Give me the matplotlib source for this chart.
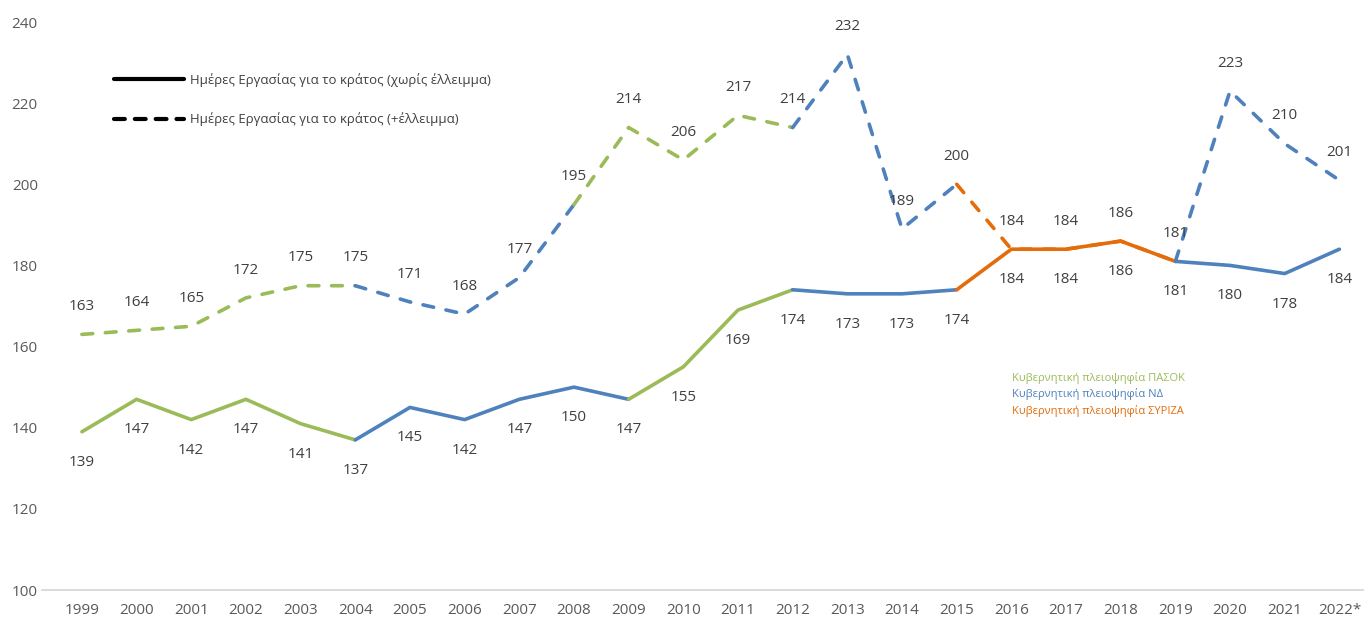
import numpy as np
import matplotlib
matplotlib.use("Agg")
import matplotlib.pyplot as plt
from matplotlib.lines import Line2D

plt.rcParams['font.family'] = ['Open Sans', 'DejaVu Sans']

# data
years = ['1999', '2000', '2001', '2002', '2003', '2004', '2005', '2006', '2007', '2008',
         '2009', '2010', '2011', '2012', '2013', '2014', '2015', '2016', '2017', '2018',
         '2019', '2020', '2021', '2022*']
no_deficit = [139, 147, 142, 147, 141, 137, 145, 142, 147, 150, 147, 155, 169, 174,
              173, 173, 174, 184, 184, 186, 181, 180, 178, 184]
with_deficit = [163, 164, 165, 172, 175, 175, 171, 168, 177, 195, 214, 206, 217, 214,
                232, 189, 200, 184, 184, 186, 181, 223, 210, 201]

# governing party for each segment (year i -> year i+1)
solid_party = ['P'] * 5 + ['N'] * 5 + ['P'] * 3 + ['N'] * 3 + ['S'] * 4 + ['N'] * 3
dashed_party = ['P'] * 5 + ['N'] * 4 + ['P'] * 4 + ['N'] * 3 + ['S'] * 4 + ['N'] * 3

party_colors = {'P': '#9BBB59', 'N': '#4F81BD', 'S': '#E46C0A'}
party_names = ['Κυβερνητική πλειοψηφία ΠΑΣΟΚ', 'Κυβερνητική πλειοψηφία ΝΔ',
               'Κυβερνητική πλειοψηφία ΣΥΡΙΖΑ']

x = np.arange(len(years))


def draw_runs(ax, values, parties, ls):
    # join consecutive segments of the same party into one line
    start = 0
    for i in range(1, len(parties) + 1):
        if i == len(parties) or parties[i] != parties[start]:
            xs = x[start:i + 1]
            ys = values[start:i + 1]
            ax.plot(xs, ys, color=party_colors[parties[start]], lw=2.6,
                    linestyle=ls, dash_capstyle='round', solid_capstyle='round',
                    solid_joinstyle='round', zorder=3)
            start = i


fig = plt.figure(figsize=(13.64, 6.21), dpi=100)
ax = fig.add_axes([42 / 1364, 31 / 621, (1364 - 42) / 1364, (590 - 22) / 621])

draw_runs(ax, with_deficit, dashed_party, (0, (3.0, 3.5)))
draw_runs(ax, no_deficit, solid_party, '-')

lab_color = '#404040'
for xi, v in zip(x, with_deficit):
    ax.annotate(str(v), (xi, v), xytext=(0, 20), textcoords='offset points',
                ha='center', va='center', fontsize=11, color=lab_color)
for xi, v in zip(x, no_deficit):
    ax.annotate(str(v), (xi, v), xytext=(0, -22), textcoords='offset points',
                ha='center', va='center', fontsize=11, color=lab_color)

ax.set_xlim(-0.73, 23.45)
ax.set_ylim(100, 240)
ax.set_yticks(range(100, 241, 20))
ax.set_xticks(x)
ax.set_xticklabels(years)
ax.tick_params(axis='both', length=0, labelsize=11, labelcolor='#595959')
ax.tick_params(axis='x', pad=9)
ax.tick_params(axis='y', pad=3)
for side in ['top', 'right', 'left']:
    ax.spines[side].set_visible(False)
ax.spines['bottom'].set_color('#D9D9D9')
ax.spines['bottom'].set_linewidth(1.3)

# line style legend
handles = [Line2D([], [], color='black', lw=3, solid_capstyle='round'),
           Line2D([], [], color='black', lw=3, linestyle=(0, (2.6, 2.4)), dash_capstyle='round')]
labels = ['Ημέρες Εργασίας για το κράτος (χωρίς έλλειμμα)',
          'Ημέρες Εργασίας για το κράτος (+έλλειμμα)']
fig.legend(handles, labels, loc='upper left', bbox_to_anchor=(102 / 1364, 1 - 61 / 621),
           frameon=False, fontsize=9.5, handlelength=5.3, handletextpad=0.45,
           labelspacing=1.95, labelcolor='#404040')

# party colour key
for k, (p, name) in enumerate(zip(['P', 'N', 'S'], party_names)):
    fig.text(1012 / 1364, 1 - (378 + 16.5 * k) / 621, name, color=party_colors[p],
             fontsize=8, va='center', ha='left')

fig.savefig('out.png', dpi=100)
